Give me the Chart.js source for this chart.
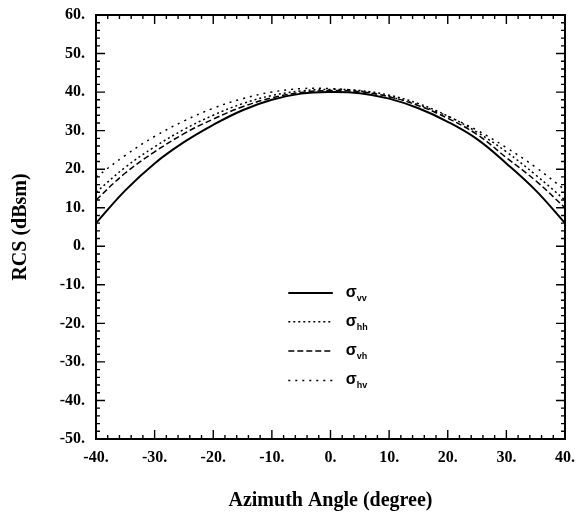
<!DOCTYPE html>
<html>
<head>
<meta charset="utf-8">
<script src="https://cdn.jsdelivr.net/npm/chart.js@4.4.1/dist/chart.umd.min.js"></script>
<style>
  body { margin: 0; background: #fff; }
  #rcsChart { display: block; }
</style>
</head>
<body>
<canvas id="rcsChart" width="579" height="516"></canvas>
<script>
// ----------- Data ------------------------------ //
let angles = [-40, -35, -30, -25, -20, -15, -10, -5, 0, 5, 10, 15, 20, 25, 30, 35, 40];

let sigma_vv = [6, 14.5, 21.5, 27, 31.5, 35.3, 38, 39.6, 40, 39.7, 38.3, 35.8, 32.3, 27.8, 21.5, 14.5, 6];
let sigma_hh = [14, 20.5, 25.8, 30.3, 34, 37, 39.1, 40.3, 40.7, 40.4, 39.2, 37, 33.8, 29.6, 24.5, 18.5, 12];
let sigma_vh = [12, 19, 24.5, 29.2, 33, 36.2, 38.5, 39.9, 40.4, 40.1, 38.8, 36.5, 33.2, 29, 23, 17, 10];
let sigma_hv = [17.9, 23.6, 28.5, 32.5, 35.8, 38.3, 40, 40.9, 40.9, 40.3, 38.8, 36.7, 33.7, 30.1, 25.6, 20.5, 14.6];

let xTicks = [-40, -30, -20, -10, 0, 10, 20, 30, 40];
let yTicks = [-50, -40, -30, -20, -10, 0, 10, 20, 30, 40, 50, 60];

let seriesNames = ["vv", "hh", "vh", "hv"];

// ------------- X ------------------ X ------------------

const SERIF = "'Liberation Serif', 'Times New Roman', serif";

function toPoints(values) {
  return angles.map((a, i) => ({ x: a, y: values[i] }));
}

let lineStyles = {
  vv: { dash: [], width: 2 },
  hh: { dash: [2, 3], width: 1.5 },
  vh: { dash: [6, 3], width: 1.5 },
  hv: { dash: [2, 5], width: 1.5 }
};

let allSeries = { vv: sigma_vv, hh: sigma_hh, vh: sigma_vh, hv: sigma_hv };

let datasets = seriesNames.map(name => ({
  label: name,
  data: toPoints(allSeries[name]),
  borderColor: "#000",
  borderWidth: lineStyles[name].width,
  borderDash: lineStyles[name].dash,
  pointRadius: 0,
  tension: 0.4,
  fill: false
}));

// inward ticks on all four sides + frame
const frameTicks = {
  id: "frameTicks",
  afterDraw(chart) {
    let ctx = chart.ctx;
    let area = chart.chartArea;
    let xs = chart.scales.x;
    let ys = chart.scales.y;
    ctx.save();
    ctx.strokeStyle = "#000";
    ctx.lineWidth = 2;
    ctx.strokeRect(area.left, area.top, area.right - area.left, area.bottom - area.top);
    ctx.lineWidth = 1.4;
    ctx.beginPath();
    for (let v = -40; v <= 40; v += 2) {
      let len = v % 10 === 0 ? 9 : 4;
      let px = xs.getPixelForValue(v);
      ctx.moveTo(px, area.bottom); ctx.lineTo(px, area.bottom - len);
      ctx.moveTo(px, area.top); ctx.lineTo(px, area.top + len);
    }
    for (let v = -50; v <= 60; v += 2) {
      let len = v % 10 === 0 ? 9 : 4;
      let py = ys.getPixelForValue(v);
      ctx.moveTo(area.left, py); ctx.lineTo(area.left + len, py);
      ctx.moveTo(area.right, py); ctx.lineTo(area.right - len, py);
    }
    ctx.stroke();
    ctx.restore();
  }
};

// legend in the middle of the plot, with sigma + subscript
const sigmaLegend = {
  id: "sigmaLegend",
  afterDraw(chart) {
    let ctx = chart.ctx;
    let xs = chart.scales.x;
    let ys = chart.scales.y;
    let x0 = xs.getPixelForValue(-7.2);
    let x1 = xs.getPixelForValue(0.4);
    let tx = xs.getPixelForValue(2.6);
    let rows = [-12.1, -19.6, -27.2, -34.8];
    ctx.save();
    seriesNames.forEach((name, i) => {
      let y = ys.getPixelForValue(rows[i]);
      ctx.strokeStyle = "#000";
      ctx.lineWidth = lineStyles[name].width;
      ctx.setLineDash(lineStyles[name].dash);
      ctx.beginPath();
      ctx.moveTo(x0, y);
      ctx.lineTo(x1, y);
      ctx.stroke();
      ctx.setLineDash([]);
      ctx.fillStyle = "#000";
      ctx.textBaseline = "alphabetic";
      ctx.font = "bold 16px 'Liberation Sans', Arial, sans-serif";
      ctx.fillText("σ", tx, y + 4);
      let w = ctx.measureText("σ").width;
      ctx.font = "bold 9px 'Liberation Sans', Arial, sans-serif";
      ctx.fillText(name, tx + w, y + 8);
    });
    ctx.restore();
  }
};

new Chart("rcsChart", {
  type: "line",
  data: { datasets: datasets },
  options: {
    responsive: false,
    animation: false,
    layout: { padding: { top: 15, right: 14, left: 0, bottom: 0 } },
    plugins: {
      legend: { display: false },
      tooltip: { enabled: false }
    },
    scales: {
      x: {
        type: "linear",
        min: -40,
        max: 40,
        afterBuildTicks: axis => { axis.ticks = xTicks.map(v => ({ value: v })); },
        afterFit: axis => {
          axis.height = 77;
          axis.paddingLeft = 0;
          axis.paddingRight = 0;
        },
        grid: { display: false, drawTicks: false },
        border: { display: false },
        ticks: {
          color: "#000",
          padding: 9,
          maxRotation: 0,
          autoSkip: false,
          font: { family: SERIF, size: 16, weight: "bold" },
          callback: v => v + "."
        },
        title: {
          display: true,
          text: "Azimuth Angle (degree)",
          color: "#000",
          font: { family: SERIF, size: 20, weight: "bold" },
          padding: { top: 0, bottom: 3 }
        }
      },
      y: {
        type: "linear",
        min: -50,
        max: 60,
        afterBuildTicks: axis => { axis.ticks = yTicks.map(v => ({ value: v })); },
        afterFit: axis => {
          axis.width = 96;
          axis.paddingTop = 0;
          axis.paddingBottom = 0;
        },
        grid: { display: false, drawTicks: false },
        border: { display: false },
        ticks: {
          color: "#000",
          padding: 11,
          autoSkip: false,
          font: { family: SERIF, size: 16, weight: "bold" },
          callback: v => v + "."
        },
        title: {
          display: true,
          text: "RCS (dBsm)",
          color: "#000",
          font: { family: SERIF, size: 20, weight: "bold" },
          padding: { top: 9, bottom: 0 }
        }
      }
    }
  },
  plugins: [frameTicks, sigmaLegend]
});
</script>
</body>
</html>
